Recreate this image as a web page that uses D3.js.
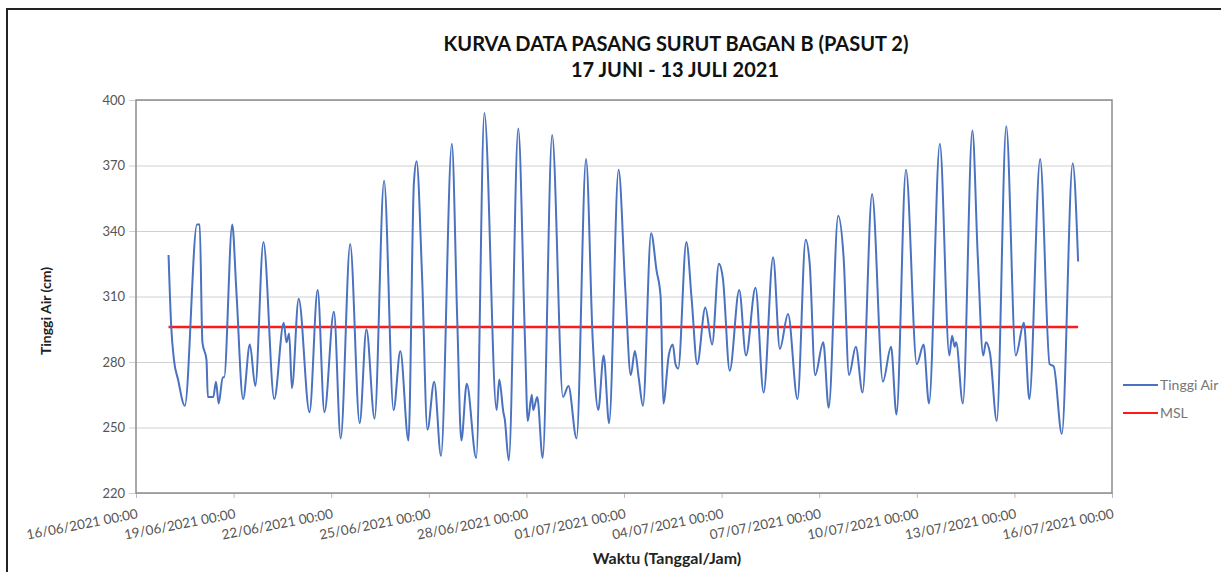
<!DOCTYPE html>
<html>
<head>
<meta charset="utf-8">
<script src="https://cdn.jsdelivr.net/npm/d3@7"></script>
<style>
  body { margin: 0; background: #fff; }
  text { font-family: Lato, "Open Sans", sans-serif; }
</style>
</head>
<body>
<div id="chart"></div>
<script>
// tide readings: hours since 17/06/2021 00:00 and water height (cm)
var hours = [0,2,4,7,12,21,23,25,28,29,33,35,37,40,41,47,50,55,60,64,
  70,78,85,87,89,91,96,104,110,115,122,127,134,141,146,152,159,166,171,177,
  181,183,187,191,196,201,209,213,216,220,227,233,242,244,247,248,251,258,263,265,
  268,269,272,276,283,291,295,301,308,313,317,321,325,332,337,341,344,347,350,356,
  360,363,365,369,372,374,376,382,386,390,396,401,406,409,414,421,426,433,439,446,
  451,457,464,470,473,477,483,487,494,498,502,507,512,519,527,533,537,544,552,557,
  561,569,576,578,580,581,586,593,597,601,603,606,611,618,625,631,635,643,650,653,
  659,667,671];
var tinggiAir = [329,296,281,272,260,343,343,289,281,264,264,271,261,273,273,343,313,263,288,269,
  335,263,298,289,293,268,309,257,313,257,303,245,334,252,295,254,363,258,285,244,
  362,372,320,249,271,237,380,299,244,270,236,394,258,272,257,254,235,387,289,253,
  265,258,264,236,384,264,269,245,373,289,258,283,252,368,313,274,285,272,260,339,
  322,310,261,283,288,279,277,335,308,279,305,288,325,318,276,313,283,314,266,328,
  286,302,263,336,325,274,289,259,347,328,274,287,266,357,271,287,256,368,279,288,
  261,380,283,292,287,289,261,386,328,283,289,284,253,388,283,298,263,373,279,278,
  247,371,326];
var mslValue = 296;
var yTicks = [220, 250, 280, 310, 340, 370, 400];
var xTickDays = ["2021-06-16","2021-06-19","2021-06-22","2021-06-25","2021-06-28",
  "2021-07-01","2021-07-04","2021-07-07","2021-07-10","2021-07-13","2021-07-16"];
var seriesNames = ["Tinggi Air", "MSL"];

var svgWidth = 1221;
var svgHeight = 572;
var margin = { top: 100, right: 109, bottom: 79, left: 136 };
var chartWidth = svgWidth - margin.left - margin.right;
var chartHeight = svgHeight - margin.top - margin.bottom;

var parseDay = d3.timeParse("%Y-%m-%d");
var start = new Date(2021, 5, 17, 0, 0);
var Data = hours.map(function(h, i) {
  return { t: d3.timeHour.offset(start, h), v: tinggiAir[i] };
});

var svg = d3.select("#chart").append("svg")
  .attr("width", svgWidth)
  .attr("height", svgHeight);

// outer frame
svg.append("rect")
  .attr("x", 7).attr("y", 9)
  .attr("width", 1240).attr("height", 600)
  .attr("fill", "none").attr("stroke", "#222").attr("stroke-width", 2);

var chartGroup = svg.append("g")
  .attr("transform", `translate(${margin.left}, ${margin.top})`);

var xTimeScale = d3.scaleTime()
  .domain([parseDay(xTickDays[0]), parseDay(xTickDays[xTickDays.length - 1])])
  .range([0, chartWidth]);
var yLinearScale = d3.scaleLinear()
  .domain([220, 400])
  .range([chartHeight, 0]);

// gridlines + y axis
var leftAxis = d3.axisLeft(yLinearScale)
  .tickValues(yTicks)
  .tickSize(-chartWidth - 7)
  .tickPadding(4);
var yAxisG = chartGroup.append("g")
  .attr("transform", "translate(-7,0)")
  .call(leftAxis);
yAxisG.select(".domain").remove();
yAxisG.selectAll("line").attr("stroke", "#d0d0d0").attr("stroke-width", 1);
yAxisG.selectAll("text").attr("fill", "#555").style("font-size", "13px");

// bottom axis ticks and labels
var bottomAxis = d3.axisBottom(xTimeScale)
  .tickValues(xTickDays.map(parseDay))
  .tickSize(5)
  .tickFormat(d3.timeFormat("%d/%m/%Y %H:%M"));
var xAxisG = chartGroup.append("g")
  .attr("transform", `translate(0, ${chartHeight})`)
  .call(bottomAxis);
xAxisG.select(".domain").remove();
xAxisG.selectAll("line").attr("stroke", "#bbb");
xAxisG.selectAll("text")
  .attr("fill", "#555")
  .style("font-size", "13.5px")
  .style("text-anchor", "end")
  .attr("dy", "0")
  .attr("y", 0)
  .attr("x", 0)
  .attr("transform", "translate(2, 25) rotate(-11)");

// plot frame
chartGroup.append("rect")
  .attr("width", chartWidth).attr("height", chartHeight)
  .attr("fill", "none").attr("stroke", "#8c8c8c").attr("stroke-width", 1.5);

// MSL line
chartGroup.append("line")
  .attr("x1", xTimeScale(Data[0].t))
  .attr("x2", xTimeScale(Data[Data.length - 1].t))
  .attr("y1", yLinearScale(mslValue))
  .attr("y2", yLinearScale(mslValue))
  .attr("stroke", "#ff1a1a")
  .attr("stroke-width", 2.5);

// tide curve
var drawLine = d3.line()
  .x(d => xTimeScale(d.t))
  .y(d => yLinearScale(d.v))
  .curve(d3.curveMonotoneX);
chartGroup.append("path")
  .datum(Data)
  .attr("d", drawLine)
  .attr("fill", "none")
  .attr("stroke", "#4a72c0")
  .attr("stroke-width", 2);

// titles
svg.append("text")
  .attr("x", 676).attr("y", 51)
  .attr("text-anchor", "middle")
  .style("font-size", "20px").style("font-weight", "bold")
  .attr("fill", "#111")
  .text("KURVA DATA PASANG SURUT BAGAN B (PASUT 2)");
svg.append("text")
  .attr("x", 675).attr("y", 77)
  .attr("text-anchor", "middle")
  .style("font-size", "20px").style("font-weight", "bold")
  .attr("fill", "#111")
  .text("17 JUNI - 13 JULI 2021");

svg.append("text")
  .attr("transform", "translate(51, 311) rotate(-90)")
  .attr("text-anchor", "middle")
  .style("font-size", "14px").style("font-weight", "bold")
  .attr("fill", "#222")
  .text("Tinggi Air (cm)");
svg.append("text")
  .attr("x", 667).attr("y", 564)
  .attr("text-anchor", "middle")
  .style("font-size", "16px").style("font-weight", "bold")
  .attr("fill", "#222")
  .text("Waktu (Tanggal/Jam)");

// legend
var legendColors = ["#4a72c0", "#ff1a1a"];
var legend = svg.append("g").attr("transform", "translate(1123, 385)");
seriesNames.forEach(function(name, i) {
  legend.append("line")
    .attr("x1", 0).attr("x2", 35)
    .attr("y1", i * 28).attr("y2", i * 28)
    .attr("stroke", legendColors[i]).attr("stroke-width", 2);
  legend.append("text")
    .attr("x", 37).attr("y", i * 28 + 5)
    .style("font-size", "14px")
    .attr("fill", "#777")
    .text(name);
});
</script>
</body>
</html>
